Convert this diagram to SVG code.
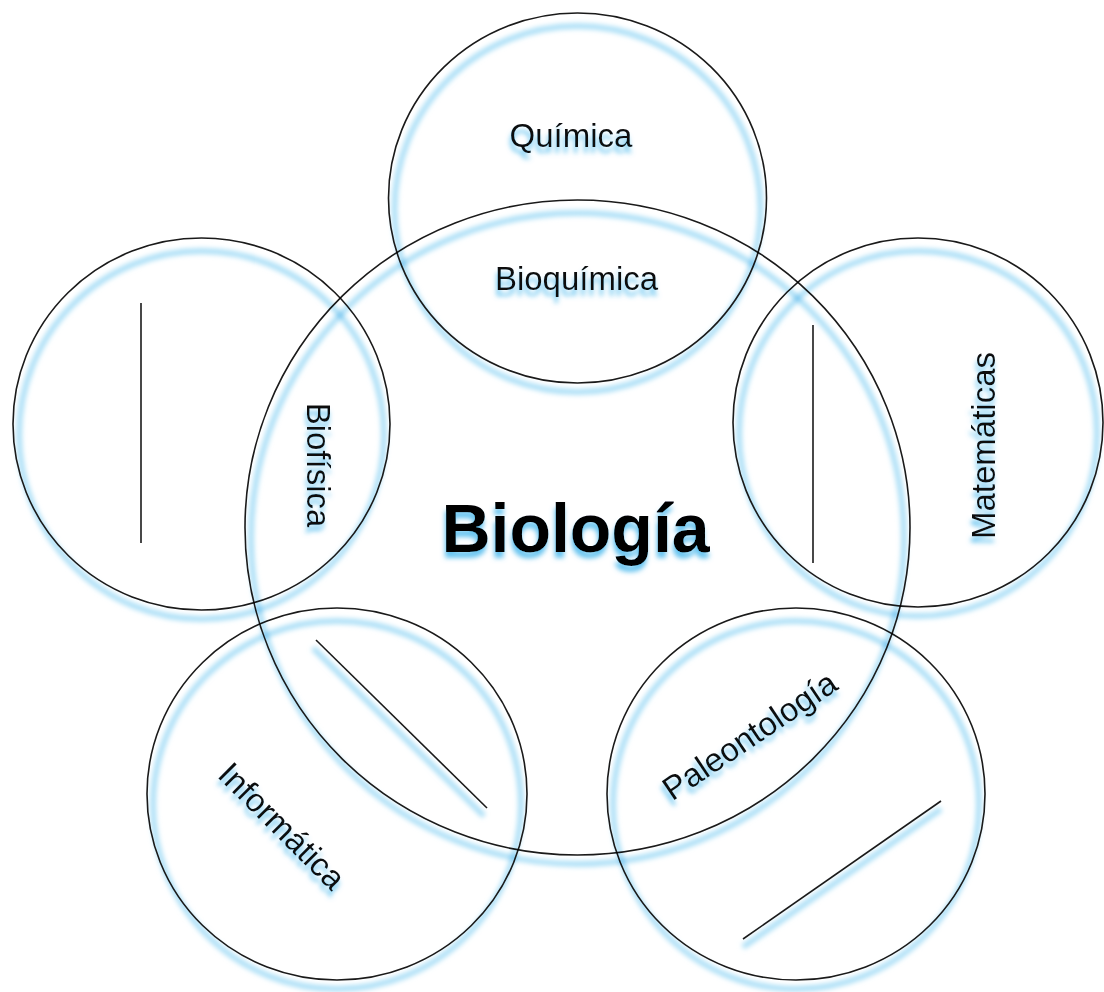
<svg xmlns="http://www.w3.org/2000/svg" width="1104" height="992" viewBox="0 0 1104 992">
  <defs>
    <!-- soft blur for the blue halos under rings and rules -->
    <filter id="soft" x="-20%" y="-20%" width="140%" height="140%">
      <feGaussianBlur stdDeviation="2.8"/>
    </filter>
    <!-- blue drop glow under the labels (applied on unrotated parent groups so it always falls downward) -->
    <filter id="textGlow" x="-20%" y="-20%" width="140%" height="160%">
      <feGaussianBlur in="SourceAlpha" stdDeviation="2.6" result="blur"/>
      <feOffset in="blur" dx="-1" dy="6" result="shift"/>
      <feFlood flood-color="#55bdee" flood-opacity="0.9"/>
      <feComposite in2="shift" operator="in" result="shadow"/>
      <feMerge>
        <feMergeNode in="shadow"/>
        <feMergeNode in="SourceGraphic"/>
      </feMerge>
    </filter>
  </defs>
  <style>
    .node { mix-blend-mode: multiply; }
    .ring { fill: none; stroke: #1a1a1a; stroke-width: 1.6; }
    .halo { fill: none; stroke: #a8def6; stroke-width: 5.5; filter: url(#soft); }
    .rule { stroke: #1a1a1a; stroke-width: 1.6; fill: none; }
    .label { font-family: "Liberation Sans", Arial, sans-serif; font-size: 33px; fill: #111; text-anchor: middle; }
    .title { font-family: "Liberation Sans", Arial, sans-serif; font-weight: bold; font-size: 68px; fill: #000; text-anchor: middle; }
  </style>

  <rect width="1104" height="992" fill="#ffffff"/>

  <!-- central field -->
  <g id="node-biologia" class="node">
    <ellipse class="halo" cx="577.5" cy="538.5" rx="326.5" ry="325.5"/>
    <ellipse class="ring" cx="577.5" cy="527.5" rx="332.5" ry="327.5"/>
    <g filter="url(#textGlow)">
      <text class="title" x="575.5" y="552">Biología</text>
    </g>
  </g>

  <!-- top: chemistry -->
  <g id="node-quimica" class="node">
    <ellipse class="halo" cx="577.5" cy="209" rx="183" ry="183"/>
    <ellipse class="ring" cx="577.5" cy="198" rx="189" ry="185"/>
    <g filter="url(#textGlow)">
      <text class="label" x="571" y="147">Química</text>
      <text class="label" x="576.5" y="290">Bioquímica</text>
    </g>
  </g>

  <!-- left: physics -->
  <g id="node-biofisica" class="node">
    <ellipse class="halo" cx="201.5" cy="435" rx="182.5" ry="184"/>
    <ellipse class="ring" cx="201.5" cy="424" rx="188.5" ry="186"/>
    <line class="halo" x1="141" y1="311" x2="141" y2="551"/>
    <line class="rule" x1="141" y1="303" x2="141" y2="543"/>
    <g filter="url(#textGlow)">
      <text class="label" transform="translate(307,465) rotate(90)" x="0" y="0">Biofísica</text>
    </g>
  </g>

  <!-- right: mathematics -->
  <g id="node-matematicas" class="node">
    <ellipse class="halo" cx="918" cy="433.5" rx="179" ry="182.5"/>
    <ellipse class="ring" cx="918" cy="422.5" rx="185" ry="184.5"/>
    <line class="halo" x1="813" y1="333" x2="813" y2="571"/>
    <line class="rule" x1="813" y1="325" x2="813" y2="563"/>
    <g filter="url(#textGlow)">
      <text class="label" transform="translate(995,445.5) rotate(-90)" x="0" y="0">Matemáticas</text>
    </g>
  </g>

  <!-- lower left: computing -->
  <g id="node-informatica" class="node">
    <ellipse class="halo" cx="337" cy="805" rx="184" ry="184"/>
    <ellipse class="ring" cx="337" cy="794" rx="190" ry="186"/>
    <line class="halo" x1="313" y1="648" x2="484" y2="816"/>
    <line class="rule" x1="316" y1="640" x2="487" y2="808"/>
    <g filter="url(#textGlow)">
      <text class="label" transform="translate(274,834) rotate(45)" x="0" y="0">Informática</text>
    </g>
  </g>

  <!-- lower right: palaeontology -->
  <g id="node-paleontologia" class="node">
    <ellipse class="halo" cx="796" cy="805" rx="183" ry="184"/>
    <ellipse class="ring" cx="796" cy="794" rx="189" ry="186"/>
    <line class="halo" x1="941" y1="809" x2="743" y2="947"/>
    <line class="rule" x1="941" y1="801" x2="743" y2="939"/>
    <g filter="url(#textGlow)">
      <text class="label" transform="translate(756,745) rotate(-34)" x="0" y="0">Paleontología</text>
    </g>
  </g>
</svg>
